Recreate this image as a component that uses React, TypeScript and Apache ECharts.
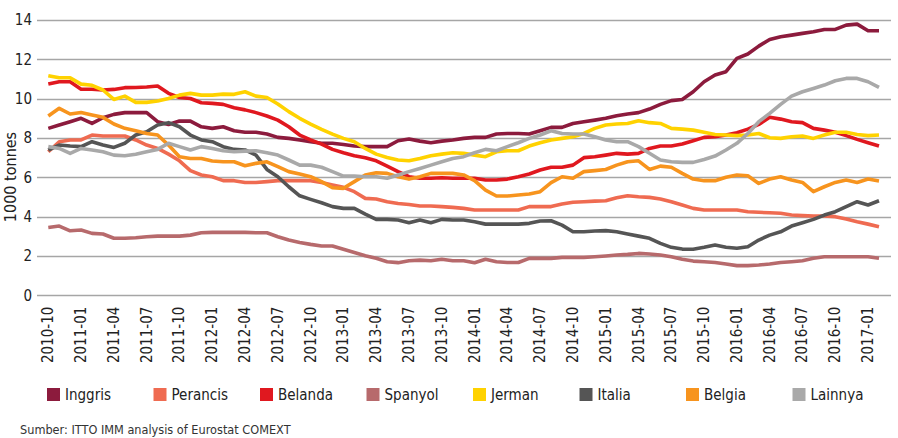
import React, { useEffect, useRef } from "react";
import * as echarts from "echarts";

const months = [
  "2010-10", "2010-11", "2010-12",
  "2011-01", "2011-02", "2011-03", "2011-04", "2011-05", "2011-06", "2011-07", "2011-08", "2011-09", "2011-10", "2011-11", "2011-12",
  "2012-01", "2012-02", "2012-03", "2012-04", "2012-05", "2012-06", "2012-07", "2012-08", "2012-09", "2012-10", "2012-11", "2012-12",
  "2013-01", "2013-02", "2013-03", "2013-04", "2013-05", "2013-06", "2013-07", "2013-08", "2013-09", "2013-10", "2013-11", "2013-12",
  "2014-01", "2014-02", "2014-03", "2014-04", "2014-05", "2014-06", "2014-07", "2014-08", "2014-09", "2014-10", "2014-11", "2014-12",
  "2015-01", "2015-02", "2015-03", "2015-04", "2015-05", "2015-06", "2015-07", "2015-08", "2015-09", "2015-10", "2015-11", "2015-12",
  "2016-01", "2016-02", "2016-03", "2016-04", "2016-05", "2016-06", "2016-07", "2016-08", "2016-09", "2016-10", "2016-11", "2016-12",
  "2017-01", "2017-02",
];

const inggris = [
  8.51, 8.68, 8.85, 9.02, 8.76, 9.05, 9.22, 9.31, 9.31, 9.31, 8.85, 8.71, 8.88, 8.88, 8.59, 8.51, 8.59, 8.39, 8.31,
  8.31, 8.22, 8.05, 8.0, 7.92, 7.83, 7.75, 7.75, 7.69, 7.61, 7.58, 7.58, 7.58, 7.88, 7.97, 7.86, 7.78, 7.86, 7.92,
  8.0, 8.05, 8.05, 8.22, 8.25, 8.25, 8.22, 8.39, 8.56, 8.56, 8.76, 8.85, 8.93, 9.02, 9.15, 9.24, 9.31, 9.49, 9.73,
  9.92, 9.98, 10.37, 10.88, 11.22, 11.39, 12.07, 12.29, 12.69, 13.03, 13.17, 13.25, 13.34, 13.42, 13.54, 13.54, 13.76, 13.81, 13.47, 13.47,
];
const perancis = [
  7.32, 7.83, 7.92, 7.92, 8.17, 8.12, 8.12, 8.12, 7.92, 7.66, 7.49, 7.2, 6.86, 6.36, 6.14, 6.05, 5.85, 5.85, 5.76,
  5.76, 5.8, 5.85, 5.85, 5.85, 5.85, 5.76, 5.63, 5.51, 5.29, 4.95, 4.92, 4.78, 4.69, 4.64, 4.56, 4.56, 4.53, 4.49,
  4.44, 4.36, 4.36, 4.36, 4.36, 4.36, 4.53, 4.53, 4.53, 4.66, 4.75, 4.78, 4.81, 4.83, 4.98, 5.08, 5.03, 5.0, 4.92,
  4.78, 4.61, 4.44, 4.36, 4.36, 4.36, 4.36, 4.27, 4.24, 4.22, 4.19, 4.1, 4.07, 4.05, 4.05, 4.02, 3.9, 3.76, 3.64, 3.51,
];
const belanda = [
  10.76, 10.88, 10.88, 10.5, 10.5, 10.46, 10.49, 10.58, 10.59, 10.61, 10.66, 10.29, 10.08, 10.03, 9.81, 9.78, 9.73, 9.56, 9.45,
  9.31, 9.14, 8.93, 8.59, 8.17, 7.92, 7.71, 7.44, 7.27, 7.12, 7.02, 6.86, 6.59, 6.31, 6.05, 5.97, 5.97, 6.0, 5.97,
  5.97, 5.97, 5.88, 5.88, 5.93, 6.05, 6.19, 6.39, 6.53, 6.53, 6.64, 7.02, 7.07, 7.15, 7.24, 7.2, 7.24, 7.49, 7.61,
  7.61, 7.71, 7.88, 8.05, 8.08, 8.17, 8.29, 8.47, 8.71, 9.07, 8.98, 8.85, 8.8, 8.51, 8.42, 8.31, 8.14, 7.95, 7.78, 7.61,
];
const spanyol = [
  3.47, 3.54, 3.3, 3.34, 3.17, 3.14, 2.92, 2.92, 2.95, 3.0, 3.03, 3.03, 3.03, 3.08, 3.2, 3.22, 3.22, 3.22, 3.22,
  3.2, 3.2, 3.0, 2.83, 2.71, 2.61, 2.53, 2.53, 2.36, 2.2, 2.03, 1.9, 1.73, 1.68, 1.78, 1.81, 1.78, 1.85, 1.78,
  1.78, 1.68, 1.85, 1.73, 1.69, 1.69, 1.9, 1.9, 1.9, 1.95, 1.95, 1.95, 1.98, 2.02, 2.07, 2.1, 2.15, 2.12, 2.07,
  1.98, 1.85, 1.76, 1.73, 1.69, 1.61, 1.53, 1.53, 1.56, 1.61, 1.69, 1.73, 1.78, 1.9, 1.98, 1.98, 1.98, 1.98, 1.98, 1.9,
];
const jerman = [
  11.19, 11.08, 11.08, 10.76, 10.7, 10.46, 9.98, 10.15, 9.83, 9.83, 9.9, 10.03, 10.2, 10.29, 10.2, 10.2, 10.25, 10.24, 10.37,
  10.15, 10.08, 9.75, 9.36, 9.02, 8.73, 8.46, 8.22, 8.0, 7.83, 7.49, 7.2, 7.03, 6.9, 6.86, 6.98, 7.12, 7.2, 7.27,
  7.24, 7.15, 7.07, 7.32, 7.37, 7.37, 7.61, 7.78, 7.92, 8.0, 8.08, 8.25, 8.51, 8.68, 8.73, 8.76, 8.9, 8.8, 8.76,
  8.51, 8.47, 8.42, 8.31, 8.2, 8.17, 8.14, 8.17, 8.25, 8.03, 8.0, 8.08, 8.12, 8.0, 8.17, 8.31, 8.31, 8.2, 8.14, 8.17,
];
const italia = [
  7.41, 7.66, 7.61, 7.58, 7.83, 7.66, 7.54, 7.75, 8.17, 8.34, 8.68, 8.8, 8.59, 8.17, 7.92, 7.83, 7.58, 7.44, 7.41,
  7.15, 6.42, 6.05, 5.54, 5.08, 4.9, 4.73, 4.53, 4.44, 4.44, 4.15, 3.88, 3.88, 3.85, 3.71, 3.85, 3.71, 3.88, 3.85,
  3.85, 3.76, 3.64, 3.64, 3.64, 3.64, 3.68, 3.8, 3.81, 3.59, 3.25, 3.25, 3.29, 3.31, 3.25, 3.14, 3.03, 2.92, 2.66,
  2.46, 2.37, 2.36, 2.46, 2.58, 2.46, 2.41, 2.49, 2.83, 3.08, 3.25, 3.54, 3.71, 3.88, 4.1, 4.27, 4.53, 4.78, 4.61, 4.83,
];
const belgia = [
  9.14, 9.53, 9.24, 9.32, 9.19, 9.07, 8.73, 8.51, 8.39, 8.25, 8.17, 7.66, 7.07, 6.98, 6.98, 6.85, 6.81, 6.81, 6.61,
  6.73, 6.81, 6.56, 6.31, 6.19, 6.05, 5.8, 5.49, 5.46, 5.8, 6.14, 6.25, 6.22, 6.05, 5.93, 6.05, 6.22, 6.22, 6.22,
  6.14, 5.85, 5.37, 5.07, 5.07, 5.12, 5.17, 5.29, 5.75, 6.05, 5.97, 6.31, 6.36, 6.42, 6.64, 6.81, 6.86, 6.42, 6.59,
  6.53, 6.22, 5.93, 5.85, 5.85, 6.02, 6.14, 6.1, 5.71, 5.93, 6.05, 5.88, 5.76, 5.29, 5.54, 5.76, 5.88, 5.76, 5.93, 5.83,
];
const lainnya = [
  7.58, 7.49, 7.24, 7.49, 7.41, 7.32, 7.15, 7.12, 7.19, 7.32, 7.44, 7.75, 7.58, 7.41, 7.58, 7.49, 7.37, 7.32, 7.35,
  7.37, 7.27, 7.15, 6.9, 6.64, 6.64, 6.53, 6.31, 6.08, 6.08, 6.05, 6.05, 5.97, 6.14, 6.31, 6.47, 6.64, 6.81, 6.98,
  7.07, 7.27, 7.44, 7.37, 7.58, 7.78, 8.0, 8.17, 8.39, 8.25, 8.22, 8.22, 8.08, 7.92, 7.83, 7.83, 7.58, 7.24, 6.9,
  6.81, 6.78, 6.78, 6.93, 7.1, 7.41, 7.75, 8.25, 8.85, 9.27, 9.73, 10.15, 10.37, 10.54, 10.71, 10.93, 11.05, 11.05, 10.88, 10.59,
];

const seriesNames = ["Inggris", "Perancis", "Belanda", "Spanyol", "Jerman", "Italia", "Belgia", "Lainnya"];
const seriesColors = ["#8c1b3d", "#ef6b51", "#e0181f", "#b76a6c", "#ffd200", "#555555", "#f7941e", "#a9a9a9"];
const yAxisTitle = "1000 tonnes";
const sourceNote = "Sumber: ITTO IMM analysis of Eurostat COMEXT";

const FONT = '"Liberation Sans Narrow", "DejaVu Sans Condensed", "Roboto Condensed", "Liberation Sans", sans-serif';

export default function App() {
  const ref = useRef<HTMLDivElement>(null);
  useEffect(() => {
    if (!ref.current) return;
    const chart = echarts.init(ref.current, null, { renderer: "svg" });
    const values = [inggris, perancis, belanda, spanyol, jerman, italia, belgia, lainnya];
    const top = 20.4;
    const bottom = 438 - 295.7;
    chart.setOption({
      animation: false,
      backgroundColor: "#ffffff",
      grid: [
        { left: 37, right: 7, top, bottom },
        { left: 48.3, right: 19, top, bottom },
      ],
      xAxis: [
        { gridIndex: 0, type: "value", show: false, min: 0, max: 1 },
        {
          gridIndex: 1,
          type: "category",
          data: months,
          boundaryGap: false,
          axisLine: { show: false },
          axisTick: { show: false },
          axisLabel: {
            interval: 2,
            rotate: 90,
            margin: 11,
            fontSize: 15,
            color: "#222",
            fontFamily: FONT,
          },
        },
      ],
      yAxis: [
        {
          gridIndex: 0,
          type: "value",
          min: 0,
          max: 14,
          interval: 2,
          axisLine: { show: false },
          axisTick: { show: false },
          axisLabel: { margin: 5, fontSize: 15, color: "#222", fontFamily: FONT },
          splitLine: { lineStyle: { color: "#a6a6a6", width: 1.3 } },
        },
        { gridIndex: 1, type: "value", min: 0, max: 14, interval: 2, show: false, splitLine: { show: false } },
      ],
      legend: seriesNames.map((n, i) => ({
        data: [n],
        left: 47 + i * 106.5,
        top: 387,
        icon: "rect",
        itemWidth: 13,
        itemHeight: 13,
        itemGap: 0,
        padding: 0,
        itemStyle: { borderWidth: 0 },
        textStyle: { fontSize: 15, color: "#222", fontFamily: FONT },
      })),
      graphic: [
        {
          type: "text",
          x: 10,
          y: 177,
          rotation: Math.PI / 2,
          style: {
            text: yAxisTitle,
            fontSize: 16,
            fill: "#222",
            fontFamily: FONT,
            align: "center",
            verticalAlign: "middle",
          },
        },
        {
          type: "text",
          left: 20,
          top: 423,
          style: { text: sourceNote, fontSize: 12.6, fill: "#333", fontFamily: FONT },
        },
      ],
      series: values.map((d, i) => ({
        name: seriesNames[i],
        type: "line",
        xAxisIndex: 1,
        yAxisIndex: 1,
        data: d,
        symbol: "none",
        showSymbol: false,
        color: seriesColors[i],
        lineStyle: { width: 3.6, color: seriesColors[i], join: "round" },
        itemStyle: { color: seriesColors[i] },
      })),
    });
    return () => chart.dispose();
  }, []);
  return <div ref={ref} style={{ position: "fixed", left: 0, top: 0, width: 898, height: 438 }} />;
}
